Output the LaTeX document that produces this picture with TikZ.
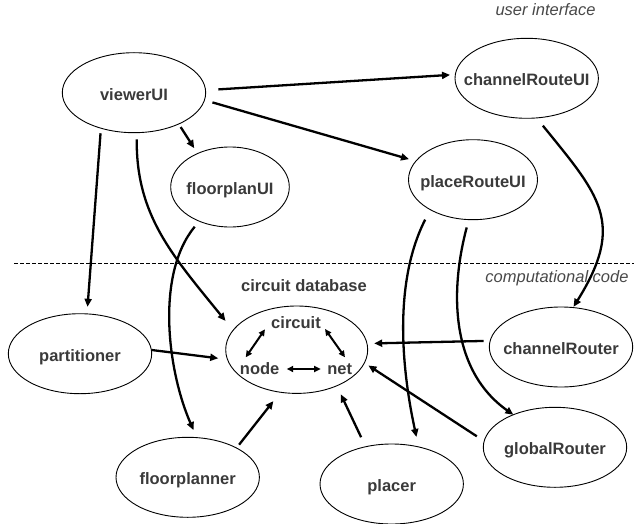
\documentclass[tikz,border=0pt]{standalone}
\usepackage{fontspec}
\setmainfont{Liberation Sans}
\usetikzlibrary{arrows.meta,shapes.geometric}
\definecolor{txt}{RGB}{58,58,58}
\definecolor{itxt}{RGB}{72,72,72}
\newcommand\nm[1]{\makebox[0pt]{#1}}
\begin{document}
\begin{tikzpicture}[x=1pt,y=-1pt,
  ebox/.style={ellipse, draw=black, line width=0.9pt, minimum width=143.4pt, minimum height=80pt,
    inner sep=0pt, outer sep=0pt, text height=14.8pt, text depth=0pt,
    font=\fontsize{16.5}{19}\selectfont\bfseries, text=txt},
  lbl/.style={inner sep=0pt, outer sep=0pt, font=\fontsize{16.5}{19}\selectfont\bfseries, text=txt, anchor=base},
  ilbl/.style={inner sep=0pt, outer sep=0pt, font=\fontsize{16.5}{19}\selectfont\itshape, text=itxt, anchor=base},
  conn/.style={line width=2.3pt, -{Triangle[length=8pt,width=7pt]}},
  dconn/.style={line width=2pt, {Triangle[length=6.5pt,width=6pt]}-{Triangle[length=6.5pt,width=6pt]}},
  sepline/.style={line width=1.3pt, dash pattern=on 4pt off 2pt},
]
\useasboundingbox (0,0) rectangle (634,524);

% separator and region labels
\coordinate (sepL) at (14,263.3);
\coordinate (sepR) at (634,263.3);
\draw[sepline] (sepL) -- (sepR);
\node[ilbl] (ui) at (545.5,15.7) {user interface};
\node[ilbl] (cc) at (557,282) {computational code};

% ellipses
\node[ebox] (viewerUI) at (134,92.7) {\nm{viewerUI}};
\node[ebox] (channelRouteUI) at (526.7,78.3) {\nm{channelRouteUI}};
\node[ebox, minimum width=118.6pt] (floorplanUI) at (230,187) {\nm{floorplanUI}};
\node[ebox, minimum width=129pt] (placeRouteUI) at (473,179.7) {\nm{placeRouteUI}};
\node[ebox, minimum width=142pt, minimum height=87.4pt] (db) at (296.7,349.7) {};
\node[ebox] (partitioner) at (80,353.7) {\nm{partitioner}};
\node[ebox] (channelRouter) at (561,347) {\nm{channelRouter}};
\node[ebox] (globalRouter) at (555,447.3) {\nm{globalRouter}};
\node[ebox] (floorplanner) at (187.7,477.3) {\nm{floorplanner}};
\node[ebox] (placer) at (391.7,484) {\nm{placer}};

% circuit database contents
\node[lbl] (dbtitle) at (304,291) {circuit database};
\node[lbl] (circuitT) at (296,328.3) {circuit};
\node[lbl] (nodeT) at (259.7,374.3) {node};
\node[lbl] (netT) at (339.7,374.3) {net};
\draw[dconn] ([shift={(-6.25,1)}]circuitT.base west) -- ([shift={(5.7,-17)}]nodeT.base west);
\draw[dconn] ([shift={(4.25,0.7)}]circuitT.base east) -- ([shift={(5.3,-17)}]netT.base);
\draw[dconn] ([shift={(7.3,-5.3)}]nodeT.base east) -- ([shift={(-6.6,-5.3)}]netT.base west);

% straight connectors
\draw[conn, shorten <=12.9pt, shorten >=5.3pt] (viewerUI.2.1) -- (channelRouteUI.177.09);
\draw[conn, shorten <=8.3pt, shorten >=7.15pt] (viewerUI.-6.8) -- (placeRouteUI.162.96);
\draw[conn, shorten <=3.7pt, shorten >=6.3pt] (viewerUI.-35.63) -- (floorplanUI.134.18);
\draw[conn, shorten <=5.1pt, shorten >=7.1pt] (viewerUI.227.16) -- (partitioner.80.4);
\draw[conn, shorten <=0.3pt, shorten >=9.3pt] (partitioner.3.0) -- (db.188.02);
\draw[conn, shorten <=6.65pt, shorten >=7.2pt] (channelRouter.175.69) -- (db.5.65);
\draw[conn, shorten <=8.8pt, shorten >=4.8pt] (globalRouter.175.34) -- (db.-11.2);
\draw[conn, shorten <=4.2pt, shorten >=11.3pt] (floorplanner.31.8) -- (db.249.01);
\draw[conn, shorten <=10.5pt, shorten >=9.4pt] (placer.125.17) -- (db.-42.08);

% curved connectors
\draw[conn, shorten <=6.6pt, shorten >=12pt] (viewerUI.-86.68) .. controls (136,215) and (172,255) .. (db.163.83);
\draw[conn, shorten <=7.1pt, shorten >=8.2pt] (floorplanUI.228.6) .. controls (155,275) and (168,372) .. (floorplanner.77.78);
\draw[conn, shorten <=11.2pt, shorten >=10.2pt] (placeRouteUI.215.2) .. controls (392,285) and (403,375) .. (placer.54.64);
\draw[conn, shorten <=8.1pt] (placeRouteUI.264.4) .. controls (450,290) and (450,370) .. (globalRouter.142.24);
\draw[conn, shorten <=10pt, shorten >=0.9pt] (channelRouteUI.-76.26) .. controls (599.5,195.5) and (626,222.8) .. (channelRouter.73.03);
\end{tikzpicture}
\end{document}
